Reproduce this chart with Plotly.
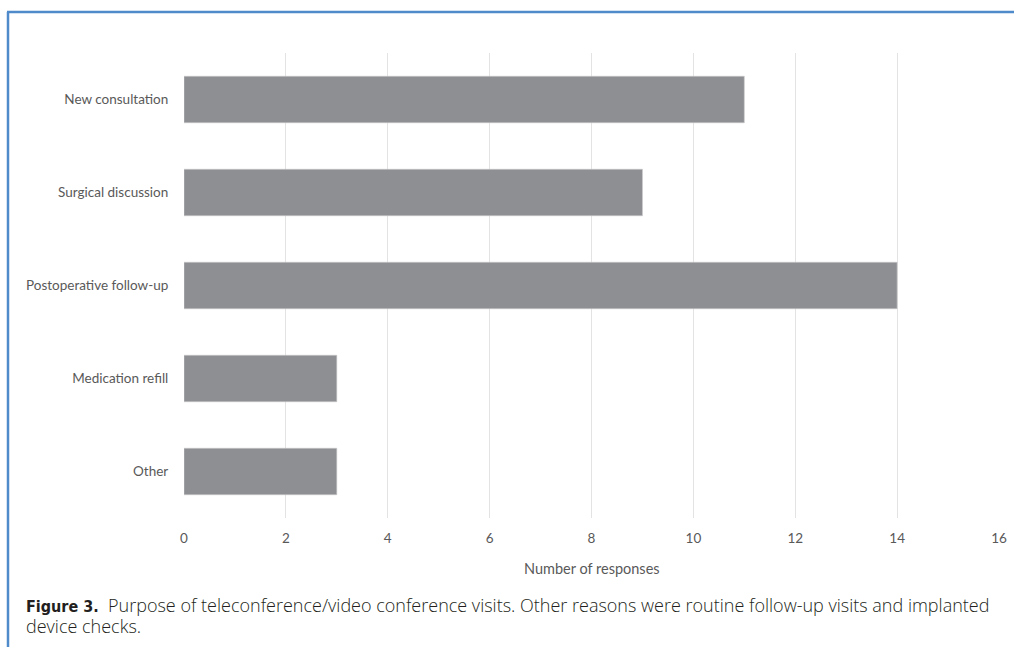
import plotly.graph_objects as go

# Survey data: purpose of teleconference/video conference visits
categories = ["New consultation", "Surgical discussion", "Postoperative follow-up",
              "Medication refill", "Other"]
responses = [11, 9, 14, 3, 3]
x_ticks = [0, 2, 4, 6, 8, 10, 12, 14, 16]

caption_lines = [
    ("<span style=\"font-family:'Liberation Sans Narrow','DejaVu Sans Condensed',sans-serif;"
     "font-weight:bold;font-size:16px\">Figure 3.</span>  Purpose of teleconference/video "
     "conference visits. Other reasons were routine follow-up visits and implanted"),
    "device checks.",
]

W, H = 1014, 647


def px_x(p):
    return p / W


def px_y(p):
    return 1 - p / H


fig = go.Figure(
    go.Bar(
        x=responses,
        y=categories,
        orientation="h",
        marker=dict(color="#8e8f93", line=dict(color="#c9cacc", width=0.6)),
        width=0.5,
        hoverinfo="x+y",
    )
)

label_font = dict(family="Lato, 'Open Sans', sans-serif", size=13.5, color="#595959")
caption_font = dict(family="'Open Sans', 'Liberation Sans', sans-serif", size=18,
                    weight=300, color="#231f20")

fig.update_layout(
    width=W,
    height=H,
    margin=dict(l=0, r=0, t=0, b=0),
    paper_bgcolor="white",
    plot_bgcolor="white",
    showlegend=False,
    xaxis=dict(
        domain=[px_x(184), px_x(999)],
        range=[0, 16],
        tickvals=x_ticks,
        ticktext=[str(v) for v in x_ticks],
        showgrid=True,
        gridcolor="#e3e3e3",
        gridwidth=1,
        zeroline=False,
        showline=False,
        ticks="outside",
        ticklen=8,
        tickcolor="rgba(0,0,0,0)",
        tickfont=label_font,
        automargin=False,
        fixedrange=True,
    ),
    yaxis=dict(
        domain=[px_y(518), px_y(53)],
        categoryorder="array",
        categoryarray=categories[::-1],
        showgrid=False,
        zeroline=False,
        showline=False,
        ticks="outside",
        ticklen=12,
        tickcolor="rgba(0,0,0,0)",
        tickfont=label_font,
        automargin=False,
        fixedrange=True,
    ),
    shapes=[
        # frame around the figure: top rule and left rule
        dict(type="line", xref="paper", yref="paper",
             x0=px_x(7), x1=1, y0=px_y(12), y1=px_y(12),
             line=dict(color="#4f8bca", width=2.5)),
        dict(type="line", xref="paper", yref="paper",
             x0=px_x(8), x1=px_x(8), y0=0, y1=px_y(12),
             line=dict(color="#4f8bca", width=2.5)),
    ],
    annotations=[
        dict(text="Number of responses", xref="paper", yref="paper",
             x=px_x(592), y=px_y(568), xanchor="center", yanchor="middle",
             showarrow=False, font=dict(label_font, size=14.5)),
        dict(text=caption_lines[0], xref="paper", yref="paper",
             x=px_x(24), y=px_y(591), xanchor="left", yanchor="top",
             align="left", showarrow=False, font=caption_font),
        dict(text=caption_lines[1], xref="paper", yref="paper",
             x=px_x(24), y=px_y(612), xanchor="left", yanchor="top",
             align="left", showarrow=False, font=caption_font),
    ],
)

fig.write_html("out.html")
